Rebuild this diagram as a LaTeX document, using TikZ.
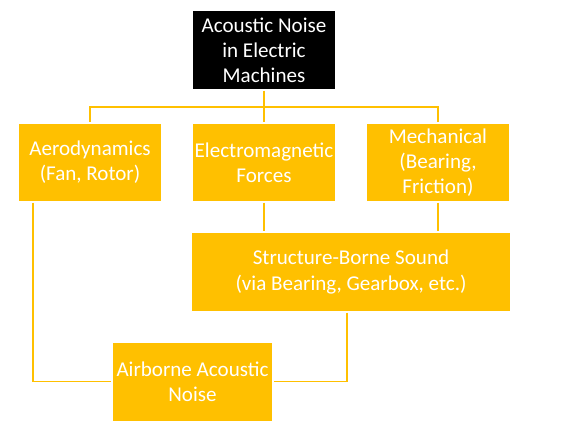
\documentclass[tikz,border=0pt]{standalone}
\usepackage{fontspec}
\setmainfont{Carlito}
\definecolor{gold}{HTML}{FFC000}
\begin{document}
\begin{tikzpicture}[x=0.75pt,y=-0.75pt,
  box/.style={fill=gold, draw=none, text=white, align=center, inner sep=0pt,
    font=\fontsize{15.8pt}{18.8pt}\selectfont},
  topbox/.style={box, fill=black},
  link/.style={draw=gold, line width=1.1pt, shorten <=1pt, shorten >=1pt}]
\useasboundingbox[fill=white] (0,0) rectangle (575,430);
\node[topbox, minimum width=142*0.75pt, minimum height=78*0.75pt] (top) at (264,50) {Acoustic Noise\\in Electric\\Machines};
\node[box, minimum width=142*0.75pt, minimum height=77*0.75pt] (aero) at (90,162.5) {Aerodynamics\\(Fan, Rotor)};
\node[box, minimum width=142*0.75pt, minimum height=77*0.75pt] (em) at (264,162.5) {Electromagnetic\\Forces};
\node[box, minimum width=142*0.75pt, minimum height=77*0.75pt] (mech) at (438,162.5) {Mechanical\\(Bearing,\\Friction)};
\node[box, minimum width=318*0.75pt, minimum height=78*0.75pt] (sbs) at (351,272) {Structure-Borne Sound\\(via Bearing, Gearbox, etc.)};
\node[box, minimum width=159*0.75pt, minimum height=78*0.75pt] (air) at (192.5,381.5) {Airborne Acoustic\\Noise};
\coordinate (bus) at (264,107);
\draw[link] (top.south) -- (top.south |- bus) -| (aero.north);
\draw[link] (top.south |- bus) -- (em.north);
\draw[link] (top.south |- bus) -| (mech.north);
\draw[link] (em.south) -- (em.south |- sbs.north);
\draw[link] (mech.south) -- (mech.south |- sbs.north);
\coordinate (aerox) at (33,0);
\coordinate (sbsx) at (347,0);
\draw[link] (aerox |- aero.south) |- (air.west);
\draw[link] (sbsx |- sbs.south) |- (air.east);
\end{tikzpicture}
\end{document}
